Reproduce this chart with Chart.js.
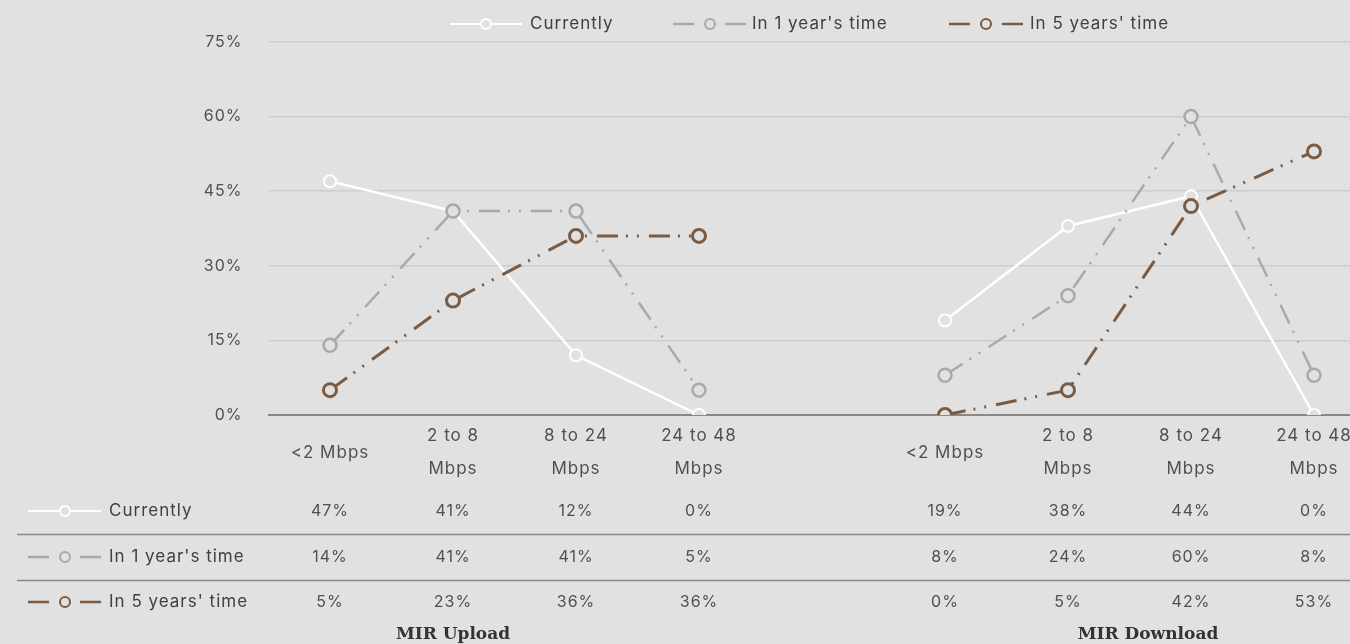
<!DOCTYPE html>
<html>
<head>
<meta charset="utf-8">
<title>MIR Upload / Download speeds</title>
<script src="https://cdn.jsdelivr.net/npm/chart.js@4/dist/chart.umd.min.js"></script>
<style>
  html, body { margin: 0; padding: 0; background: #e1e1e1; overflow: hidden; }
  #wrap { width: 1400px; height: 644px; }
</style>
</head>
<body>
<div id="wrap"><canvas id="c" width="1400" height="644"></canvas></div>
<script>
// Speed bands shown for each group
const speedBands = ['<2 Mbps', ['2 to 8', 'Mbps'], ['8 to 24', 'Mbps'], ['24 to 48', 'Mbps']];
const groupTitles = ['MIR Upload', 'MIR Download'];

// Share of respondents (%) per speed band
const currentlyUpload   = [47, 41, 12, 0];
const currentlyDownload = [19, 38, 44, 0];
const oneYearUpload     = [14, 41, 41, 5];
const oneYearDownload   = [8, 24, 60, 8];
const fiveYearUpload    = [5, 23, 36, 36];
const fiveYearDownload  = [0, 5, 42, 53];

const seriesNames = ['Currently', "In 1 year's time", "In 5 years' time"];
const yTicks = [0, 15, 30, 45, 60, 75];

const BG = '#e1e1e1';
const WHITE = '#ffffff';
const GREY = '#a9a9a9';
const BROWN = '#7a5c45';
const TEXT = '#505050';
const FONT = 'Inter, "Open Sans", sans-serif';
const DASH = [21, 8, 2, 9, 2, 10];

// Upload bands, an empty spacer slot, then download bands
const labels = [...speedBands, '', ...speedBands];
const joinGroups = (up, down) => [...up, null, ...down];

const seriesData = [
  joinGroups(currentlyUpload, currentlyDownload),
  joinGroups(oneYearUpload, oneYearDownload),
  joinGroups(fiveYearUpload, fiveYearDownload)
];
const seriesStyle = [
  { color: WHITE, dash: [], width: 2.5, radius: 6, pw: 2 },
  { color: GREY, dash: DASH, width: 2.5, radius: 6.5, pw: 2.5 },
  { color: BROWN, dash: DASH, width: 3, radius: 6.5, pw: 3 }
];

// Small line-with-marker sample used in the legend and the table
function drawSample(ctx, i, x0, x1, cx, cy, r) {
  const s = seriesStyle[i];
  ctx.save();
  ctx.strokeStyle = s.color;
  ctx.lineWidth = i === 0 ? 2 : 2.5;
  ctx.beginPath();
  if (i === 0) {
    ctx.moveTo(x0, cy); ctx.lineTo(x1, cy);
  } else {
    ctx.moveTo(x0, cy); ctx.lineTo(x0 + 21, cy);
    ctx.moveTo(x1 - 21, cy); ctx.lineTo(x1, cy);
  }
  ctx.stroke();
  ctx.beginPath();
  ctx.arc(cx, cy, r, 0, Math.PI * 2);
  ctx.fillStyle = BG;
  ctx.fill();
  ctx.lineWidth = 2;
  ctx.stroke();
  ctx.restore();
}

// Slightly tracked-out lettering for all canvas text
const spacing = {
  id: 'spacing',
  beforeDraw(chart) { chart.ctx.letterSpacing = '1px'; }
};

const legendAndTable = {
  id: 'legendAndTable',
  afterDraw(chart) {
    const ctx = chart.ctx;
    const xs = chart.scales.x;

    // legend
    ctx.save();
    ctx.letterSpacing = '1px';
    ctx.font = '17px ' + FONT;
    ctx.fillStyle = '#404040';
    ctx.textBaseline = 'middle';
    ctx.textAlign = 'left';
    const legendItems = [
      { x0: 450, x1: 522, cx: 486, tx: 530 },
      { x0: 673, x1: 746, cx: 710, tx: 752 },
      { x0: 949, x1: 1023, cx: 986, tx: 1030 }
    ];
    legendItems.forEach((it, i) => {
      drawSample(ctx, i, it.x0, it.x1, it.cx, 24, 5);
      ctx.fillText(seriesNames[i], it.tx, 24);
    });

    // data table
    const rowY = [511, 557, 602];
    ctx.strokeStyle = '#8d8686';
    ctx.lineWidth = 1.5;
    [534.5, 580.5].forEach(y => {
      ctx.beginPath(); ctx.moveTo(17, y); ctx.lineTo(1400, y); ctx.stroke();
    });
    rowY.forEach((y, i) => {
      drawSample(ctx, i, 28, 101, 65, y, 5);
      ctx.font = '17px ' + FONT;
      ctx.fillStyle = '#404040';
      ctx.textAlign = 'left';
      ctx.fillText(seriesNames[i], 109, y);
      ctx.font = '16px ' + FONT;
      ctx.fillStyle = TEXT;
      ctx.textAlign = 'center';
      seriesData[i].forEach((v, j) => {
        if (v === null) return;
        ctx.fillText(v + '%', xs.getPixelForValue(j), y);
      });
    });

    // group titles
    ctx.letterSpacing = '0px';
    ctx.font = 'bold 17px "DejaVu Serif", "Liberation Serif", serif';
    ctx.fillStyle = '#333333';
    ctx.textAlign = 'center';
    ctx.fillText(groupTitles[0], 453, 635);
    ctx.fillText(groupTitles[1], 1148, 635);
    ctx.restore();
  }
};

new Chart(document.getElementById('c'), {
  type: 'line',
  data: {
    labels,
    datasets: seriesData.map((d, i) => ({
      label: seriesNames[i],
      data: d,
      borderColor: seriesStyle[i].color,
      borderWidth: seriesStyle[i].width,
      borderDash: seriesStyle[i].dash,
      pointRadius: seriesStyle[i].radius,
      pointBorderWidth: seriesStyle[i].pw,
      pointBorderColor: seriesStyle[i].color,
      pointBackgroundColor: BG,
      tension: 0,
      spanGaps: false,
      fill: false
    })).reverse()
  },
  options: {
    responsive: false,
    animation: false,
    layout: { padding: { top: 42, right: 24.5, bottom: 0, left: 0 } },
    plugins: { legend: { display: false }, tooltip: { enabled: false } },
    scales: {
      x: {
        offset: true,
        grid: { display: false, drawTicks: false },
        border: { display: true, color: '#8d8686', width: 2 },
        ticks: {
          autoSkip: false,
          maxRotation: 0,
          padding: 21,
          crossAlign: 'center',
          color: TEXT,
          font: { family: FONT, size: 17, lineHeight: '33px' }
        },
        afterFit(scale) { scale.height = 229; }
      },
      y: {
        min: 0,
        max: 75,
        afterBuildTicks(scale) { scale.ticks = yTicks.map(v => ({ value: v })); },
        grid: { color: '#cdcdcd', lineWidth: 1.5, drawTicks: false },
        border: { display: false },
        ticks: {
          padding: 26,
          color: TEXT,
          font: { family: FONT, size: 16 },
          callback: v => v + '%'
        },
        afterFit(scale) { scale.width = 268.5; }
      }
    }
  },
  plugins: [spacing, legendAndTable]
});
</script>
</body>
</html>
